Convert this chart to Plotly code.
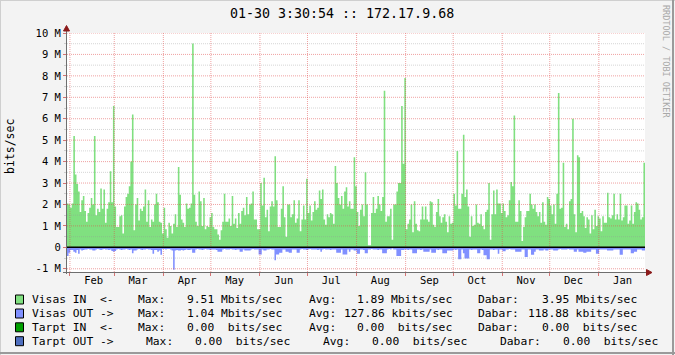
import datetime as dt
import plotly.graph_objects as go

# ---------------- data (Mbits/sec, one value per day) ----------------
visas_in_q1 = [2.05, 2.0, 1.85, 2.05, 5.2, 3.4, 2.95, 2.6, 1.65, 2.2,
               2.4, 1.7, 1.2, 1.6, 1.85, 2.3, 2.0, 5.2, 1.5, 1.8,
               1.65, 2.75, 1.8, 2.7, 1.15, 1.8, 2.1, 3.55, 2.1, 6.6,
               1.9, 0.95, 0.95, 1.45, 1.5, 0.65, 1.9, 2.35, 2.5, 2.85,
               4.0, 6.2, 0.8, 2.0, 2.3, 1.25, 1.8, 1.7, 1.9, 2.7,
               1.2, 2.2, 0.95, 1.3, 1.2, 2.0, 2.5, 2.1, 1.2, 1.15,
               0.65, 1.85, 0.85, 0.45, 1.15, 1.0, 0.65, 1.1, 1.55, 0.95,
               3.75, 2.45, 1.3, 1.15, 0.95, 2.05, 1.8, 1.85, 2.05, 9.51,
               2.45, 1.2, 1.0, 2.6, 2.15, 1.0, 2.3, 0.85, 1.0, 0.95,
               1.4, 1.6]
visas_in_q2 = [0.95, 0.85, 0.85, 0.6, 0.35, 0.8, 1.2, 2.5, 1.2, 1.2,
               1.35, 1.0, 2.4, 1.1, 1.35, 0.9, 1.6, 1.1, 1.7, 1.85,
               1.5, 2.35, 1.55, 2.0, 2.05, 2.6, 1.3, 1.3, 0.85, 0.85,
               3.0, 1.95, 3.25, 1.4, 1.75, 0.75, 1.9, 2.15, 1.9, 4.25,
               2.2, 0.95, 0.95, 1.8, 2.85, 1.4, 0.5, 2.0, 2.0, 1.4,
               1.55, 2.2, 1.15, 1.35, 2.2, 0.75, 1.3, 1.95, 1.3, 3.2,
               1.6, 1.95, 1.25, 1.65, 2.15, 1.75, 1.85, 2.65, 2.25, 2.7,
               1.3, 1.05, 1.55, 1.4, 1.6, 1.55, 1.1, 3.8, 3.0, 2.3,
               2.0, 2.4, 1.8, 2.6, 2.8, 1.9, 2.15, 1.8, 1.8, 4.2,
               2.85]
visas_in_q3 = [1.65, 1.0, 1.75, 2.0, 1.45, 3.5, 2.0, 0.1, 0.1, 1.6,
               2.35, 1.6, 1.8, 2.4, 2.0, 1.7, 2.35, 7.3, 1.2, 1.45,
               1.45, 1.8, 0.35, 2.0, 2.0, 2.6, 3.0, 3.0, 6.6, 3.9,
               7.9, 0.85, 1.1, 1.3, 2.0, 0.7, 2.15, 1.1, 0.8, 0.75,
               1.3, 1.9, 1.3, 1.9, 1.3, 1.2, 2.15, 2.1, 1.05, 0.95,
               1.65, 2.25, 1.45, 1.15, 1.4, 1.55, 1.2, 0.7, 1.45, 1.1,
               1.15, 2.5, 1.95, 4.5, 1.8, 1.8, 2.5, 5.25, 2.35, 2.7,
               1.9, 0.5, 1.45, 1.0, 1.05, 2.0, 1.15, 1.1, 1.55, 1.0,
               0.85, 1.65, 1.75, 3.0, 0.35, 1.55, 2.65, 1.55, 2.7, 2.05,
               2.05]
visas_in_q4 = [1.6, 2.05, 1.7, 1.4, 1.5, 2.2, 3.05, 2.85, 6.15, 1.2,
               1.2, 2.2, 1.7, 0.3, 0.95, 1.4, 1.7, 1.7, 2.5, 2.0,
               1.8, 2.0, 1.65, 1.45, 1.65, 1.15, 2.1, 1.2, 1.05, 2.35,
               2.25, 1.95, 1.55, 2.0, 1.1, 2.5, 7.2, 1.8, 1.85, 3.95,
               0.95, 1.1, 0.85, 2.15, 2.25, 6.0, 1.55, 0.7, 4.3, 4.2,
               1.6, 1.7, 1.45, 0.9, 1.4, 1.3, 0.65, 1.5, 0.85, 1.75,
               1.0, 1.45, 1.35, 0.75, 1.45, 1.15, 1.15, 2.55, 1.4, 1.35,
               1.5, 2.5, 1.3, 1.55, 1.3, 2.5, 1.25, 1.4, 1.95, 1.95,
               1.1, 1.25, 1.95, 1.1, 1.65, 2.1, 2.05, 1.75, 1.3, 1.4,
               3.95]

visas_out_q1 = [-0.4, -0.25, -0.12, -0.12, -0.2, -0.25, -0.12, -0.3, -0.1, -0.15,
                -0.12, -0.1, -0.1, -0.08, -0.1, -0.1, -0.15, -0.15, -0.1, -0.08,
                -0.1, -0.12, -0.1, -0.08, -0.1, -0.1, -0.12, -0.1, -0.17, -0.2,
                -0.17, -0.1, -0.08, -0.1, -0.12, -0.1, -0.1, -0.08, -0.1, -0.12,
                -0.1, -0.28, -0.15, -0.15, -0.1, -0.08, -0.1, -0.12, -0.1, -0.1,
                -0.08, -0.1, -0.1, -0.12, -0.3, -0.12, -0.12, -0.2, -0.15, -0.35,
                -0.08, -0.08, -0.1, -0.08, -0.08, -0.1, -0.15, -1.04, -0.15, -0.12,
                -0.15, -0.15, -0.12, -0.15, -0.12, -0.1, -0.12, -0.12, -0.1, -0.25,
                -0.25, -0.1, -0.08, -0.1, -0.1, -0.12, -0.1, -0.08, -0.1, -0.1,
                -0.12, -0.1]
visas_out_q2 = [-0.1, -0.1, -0.12, -0.2, -0.2, -0.2, -0.1, -0.08, -0.1, -0.1,
                -0.1, -0.08, -0.1, -0.1, -0.12, -0.1, -0.1, -0.2, -0.2, -0.1,
                -0.15, -0.15, -0.15, -0.15, -0.1, -0.08, -0.1, -0.1, -0.1, -0.33,
                -0.33, -0.1, -0.15, -0.15, -0.1, -0.1, -0.08, -0.1, -0.1, -0.6,
                -0.33, -0.33, -0.25, -0.25, -0.1, -0.1, -0.2, -0.2, -0.25, -0.25,
                -0.1, -0.1, -0.1, -0.25, -0.25, -0.1, -0.08, -0.1, -0.1, -0.12,
                -0.1, -0.08, -0.1, -0.1, -0.1, -0.1, -0.12, -0.1, -0.2, -0.1,
                -0.08, -0.1, -0.1, -0.1, -0.12, -0.1, -0.1, -0.1, -0.25, -0.25,
                -0.25, -0.1, -0.33, -0.33, -0.33, -0.1, -0.2, -0.1, -0.1, -0.15,
                -0.15]
visas_out_q3 = [-0.3, -0.3, -0.1, -0.1, -0.12, -0.28, -0.28, -0.1, -0.1, -0.08,
                -0.1, -0.1, -0.1, -0.12, -0.1, -0.1, -0.28, -0.28, -0.28, -0.1,
                -0.08, -0.1, -0.05, -0.1, -0.1, -0.4, -0.4, -0.4, -0.12, -0.12,
                -0.1, -0.1, -0.12, -0.1, -0.1, -0.28, -0.28, -0.28, -0.1, -0.1,
                -0.12, -0.1, -0.2, -0.2, -0.2, -0.2, -0.1, -0.25, -0.25, -0.25,
                -0.1, -0.12, -0.1, -0.1, -0.28, -0.28, -0.28, -0.15, -0.15, -0.15,
                -0.15, -0.1, -0.12, -0.1, -0.55, -0.55, -0.1, -0.28, -0.52, -0.52,
                -0.52, -0.1, -0.12, -0.1, -0.1, -0.1, -0.28, -0.28, -0.1, -0.12,
                -0.37, -0.37, -0.55, -0.55, -0.1, -0.1, -0.12, -0.1, -0.1, -0.3,
                -0.1]
visas_out_q4 = [-0.1, -0.18, -0.18, -0.1, -0.1, -0.08, -0.1, -0.1, -0.1, -0.2,
                -0.2, -0.2, -0.2, -0.1, -0.1, -0.45, -0.45, -0.1, -0.1, -0.35,
                -0.35, -0.2, -0.1, -0.1, -0.15, -0.15, -0.15, -0.1, -0.15, -0.15,
                -0.1, -0.1, -0.1, -0.15, -0.15, -0.15, -0.1, -0.08, -0.1, -0.1,
                -0.1, -0.1, -0.08, -0.1, -0.1, -0.1, -0.2, -0.2, -0.1, -0.2,
                -0.2, -0.2, -0.25, -0.25, -0.2, -0.2, -0.2, -0.1, -0.1, -0.1,
                -0.3, -0.3, -0.1, -0.1, -0.1, -0.1, -0.1, -0.15, -0.15, -0.15,
                -0.15, -0.1, -0.1, -0.1, -0.1, -0.35, -0.35, -0.1, -0.1, -0.1,
                -0.1, -0.1, -0.28, -0.28, -0.2, -0.2, -0.1, -0.1, -0.1, -0.15,
                -0.15]

month_labels = ["Feb", "Mar", "Apr", "May", "Jun", "Jul", "Aug", "Sep", "Oct", "Nov", "Dec", "Jan"]
y_ticks = [-1, 0, 1, 2, 3, 4, 5, 6, 7, 8, 9, 10]
y_tick_text = ["-1 M", "0", "1 M", "2 M", "3 M", "4 M", "5 M", "6 M", "7 M", "8 M", "9 M", "10 M"]
y_minor = [-0.5, 0.5, 1.5, 2.5, 3.5, 4.5, 5.5, 6.5, 7.5, 8.5, 9.5]

series_names = ["Visas IN  <-", "Visas OUT ->", "Tarpt IN  <-", "Tarpt OUT ->"]
series_colors = ["#80E080", "#8090FF", "#00A000", "#4F6FBF"]
max_vals = ["9.51 Mbits/sec", "1.04 Mbits/sec", "0.00\u00a0 bits/sec", "0.00\u00a0 bits/sec"]
avg_vals = ["1.89 Mbits/sec", "127.86 kbits/sec", "0.00\u00a0 bits/sec", "0.00\u00a0 bits/sec"]
cur_vals = ["3.95 Mbits/sec", "118.88 kbits/sec", "0.00\u00a0 bits/sec", "0.00\u00a0 bits/sec"]

title_text = "01-30 3:30:54 :: 172.17.9.68"

# ---------------- build ----------------
visas_in = visas_in_q1 + visas_in_q2 + visas_in_q3 + visas_in_q4
visas_out = visas_out_q1 + visas_out_q2 + visas_out_q3 + visas_out_q4
n = len(visas_in)
end = dt.datetime(2014, 1, 30, 3, 30, 54)
start = end - dt.timedelta(days=n)
xs = [start + dt.timedelta(days=i) for i in range(n + 1)]
tarpt_zero = [0.0] * n

FONT = "DejaVu Sans Mono"
W, H = 675, 355
L, R, T, B = 67, 645, 33, 272


def px(x):
    return (x - L) / (R - L)


def py(y):
    return (B - y) / (B - T)


fig = go.Figure()
for vals, col in [(visas_in, series_colors[0]), (visas_out, series_colors[1]),
                  (tarpt_zero, series_colors[2]), (tarpt_zero, series_colors[3])]:
    fig.add_trace(go.Scatter(x=xs, y=vals + [vals[-1]], mode="lines", line_shape="hv",
                             line=dict(width=0, color=col), fill="tozeroy",
                             fillcolor=col, hoverinfo="skip", showlegend=False))

month_starts = [dt.datetime(2013, m, 1) for m in range(2, 13)] + [dt.datetime(2014, 1, 1)]
month_mid = [dt.datetime(2013, m, 16) for m in range(2, 13)] + [dt.datetime(2014, 1, 16)]

red_grid = "rgba(225,70,70,0.5)"
grey_grid = "rgba(150,150,150,0.4)"
DASH = "1px,1px"

fig.update_xaxes(range=[start, end], tickvals=month_mid, ticktext=month_labels,
                 showgrid=False, ticks="", tickfont=dict(family=FONT, size=10.5, color="#000"),
                 showline=False, zeroline=False,
                 minor=dict(tickvals=month_starts, showgrid=False, ticks="outside",
                            ticklen=3, tickcolor="rgba(200,60,60,0.7)"))
fig.update_yaxes(range=[-1.15, 10], tickvals=y_ticks, ticktext=y_tick_text,
                 showgrid=False, ticks="outside", ticklen=3, tickcolor="rgba(200,60,60,0.7)",
                 tickfont=dict(family=FONT, size=10.5, color="#000"),
                 zeroline=False, showline=False,
                 minor=dict(tickvals=y_minor, showgrid=False, ticks="outside", ticklen=2,
                            tickcolor=grey_grid))

shapes = []
# grid drawn above the data, as rrdtool does
for v in y_minor:
    shapes.append(dict(type="line", xref="paper", yref="y", x0=0, x1=1, y0=v, y1=v,
                       layer="above", line=dict(color=grey_grid, width=1, dash=DASH)))
for v in y_ticks:
    shapes.append(dict(type="line", xref="paper", yref="y", x0=0, x1=1, y0=v, y1=v,
                       layer="above", line=dict(color=red_grid, width=1, dash=DASH)))
for d in month_starts:
    shapes.append(dict(type="line", xref="x", yref="paper", x0=d, x1=d, y0=0, y1=1,
                       layer="above", line=dict(color=red_grid, width=1, dash=DASH)))
# zero line
shapes.append(dict(type="line", xref="paper", yref="y", x0=0, x1=1, y0=0, y1=0,
                   line=dict(color="#000", width=1.5)))
# axis lines
shapes.append(dict(type="line", xref="paper", yref="paper", x0=px(66.5), x1=px(66.5),
                   y0=py(274), y1=py(28), line=dict(color="#6E6E6E", width=1)))
shapes.append(dict(type="line", xref="paper", yref="paper", x0=px(63), x1=px(648),
                   y0=py(272.5), y1=py(272.5), line=dict(color="#6E6E6E", width=1)))
# arrows
shapes.append(dict(type="path", xref="paper", yref="paper",
                   path=f"M {px(63.5)} {py(31)} L {px(66.5)} {py(25.5)} L {px(69.5)} {py(31)} Z",
                   fillcolor="#8B1A1A", line=dict(color="#8B1A1A", width=1)))
shapes.append(dict(type="path", xref="paper", yref="paper",
                   path=f"M {px(646.5)} {py(269.5)} L {px(652)} {py(272.5)} L {px(646.5)} {py(275.5)} Z",
                   fillcolor="#8B1A1A", line=dict(color="#8B1A1A", width=1)))
# image border
shapes.append(dict(type="line", xref="paper", yref="paper", x0=px(0), x1=px(675),
                   y0=py(0.5), y1=py(0.5), line=dict(color="#CFCFCF", width=1)))
shapes.append(dict(type="line", xref="paper", yref="paper", x0=px(0.5), x1=px(0.5),
                   y0=py(0), y1=py(355), line=dict(color="#CFCFCF", width=1)))
shapes.append(dict(type="line", xref="paper", yref="paper", x0=px(0), x1=px(675),
                   y0=py(353), y1=py(353), line=dict(color="#9A9A9A", width=2)))
shapes.append(dict(type="line", xref="paper", yref="paper", x0=px(673), x1=px(673),
                   y0=py(0), y1=py(355), line=dict(color="#9A9A9A", width=2)))

annotations = []
annotations.append(dict(text=title_text, xref="paper", yref="paper", x=px(341.5), y=py(14),
                        xanchor="center", yanchor="middle", showarrow=False,
                        font=dict(family=FONT, size=13.3, color="#000")))
annotations.append(dict(text="bits/sec", xref="paper", yref="paper", x=px(10), y=py(147),
                        xanchor="center", yanchor="middle", showarrow=False, textangle=-90,
                        font=dict(family=FONT, size=11.5, color="#000")))
annotations.append(dict(text="RRDTOOL / TOBI OETIKER", xref="paper", yref="paper",
                        x=px(666), y=py(61), xanchor="center", yanchor="middle",
                        showarrow=False, textangle=90,
                        font=dict(family=FONT, size=8.5, color="#A8A8A8")))

row_y = [299.5, 313.5, 327.3, 341.2]
row_cols = [
    [31, 137, 186, 308, 356, 477, 541],
    [31, 137, 186, 308, 343, 477, 527],
    [31, 137, 186, 308, 356, 477, 541],
    [31, 145, 194, 322, 371, 499, 562],
]
for i in range(4):
    yc = row_y[i]
    shapes.append(dict(type="rect", xref="paper", yref="paper",
                       x0=px(15.5), x1=px(23.5), y0=py(yc - 4.5), y1=py(yc + 4.5),
                       fillcolor=series_colors[i], line=dict(color="#000", width=1)))
    pieces = [series_names[i].replace(" ", "\u00a0"), "Max:", max_vals[i], "Avg:",
              avg_vals[i], "Dabar:", cur_vals[i]]
    for txt, xx in zip(pieces, row_cols[i]):
        annotations.append(dict(text=txt, xref="paper", yref="paper", x=px(xx - 1.5), y=py(yc),
                                xanchor="left", yanchor="middle", showarrow=False,
                                font=dict(family=FONT, size=11.3, color="#000")))

fig.update_layout(width=W, height=H, margin=dict(l=L, r=W - R, t=T, b=H - B),
                  paper_bgcolor="#F3F3F3", plot_bgcolor="#FFFFFF",
                  shapes=shapes, annotations=annotations, showlegend=False)

fig.write_html("out.html")
